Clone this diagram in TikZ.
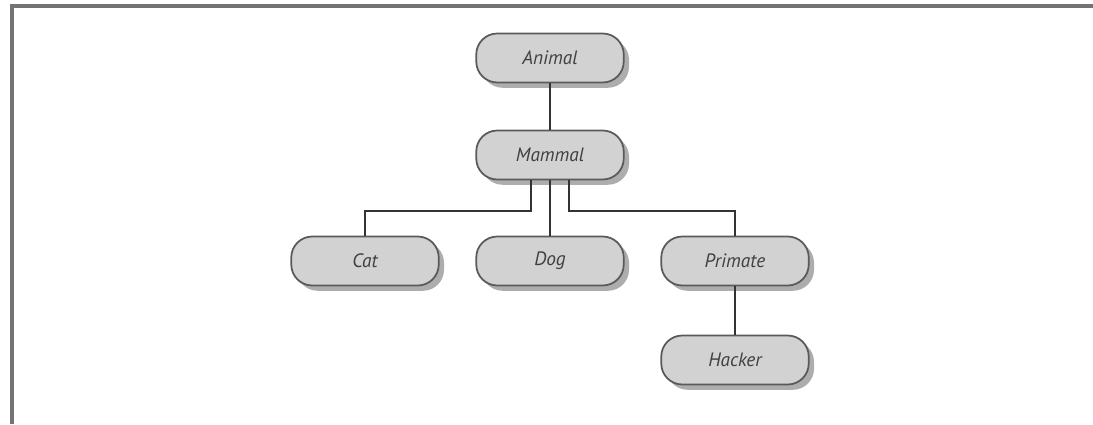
\documentclass[tikz,border=0pt]{standalone}
\usepackage{fontspec}
\setmainfont{PT Sans}
\usetikzlibrary{shadows}
\definecolor{boxgray}{HTML}{D2D2D2}
\definecolor{edgegray}{HTML}{5A5A5A}
\tikzstyle{taxon}=[draw=edgegray, fill=boxgray, line width=1pt, rounded corners=0.42cm,
  minimum width=2.95cm, minimum height=0.98cm, text=black!75,
  font=\itshape\fontsize{11}{12}\selectfont,
  drop shadow={shadow xshift=3pt, shadow yshift=-3pt, fill=black!40, opacity=0.8}]
\tikzstyle{link}=[draw=black!80, line width=1.1pt]
\tikzstyle{frame}=[draw=black!55, line width=2.2pt]

\begin{document}
\begin{tikzpicture}[x=0.02cm, y=-0.02cm]
      \useasboundingbox (0,0) rectangle (1093,424);
      \draw[frame] (12,424) -- (12,6) -- (1093,6);
      \node[taxon] (animal) at (550, 58) {Animal};
      \node[taxon] (mammal) at (550, 155) {Mammal};
      \node[taxon] (cat) at (365, 261) {Cat};
      \node[taxon] (dog) at (550, 261) {Dog};
      \node[taxon] (primate) at (735, 261) {Primate};
      \node[taxon] (hacker) at (735, 360) {Hacker};
      \draw[link] (animal) -- (mammal);
      \draw[link] ([xshift=-0.38cm]mammal.south) -- ++(0,31) -| (cat);
      \draw[link] (mammal) -- (dog);
      \draw[link] ([xshift=0.38cm]mammal.south) -- ++(0,31) -| (primate);
      \draw[link] (primate) -- (hacker);
    \end{tikzpicture}
\end{document}
